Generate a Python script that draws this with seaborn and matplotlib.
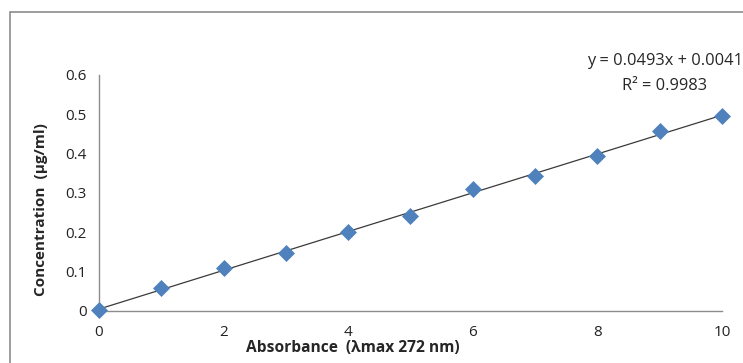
import numpy as np
import pandas as pd
import matplotlib
matplotlib.use('Agg')
import matplotlib.pyplot as plt
import seaborn as sns
from matplotlib.patches import Rectangle

sns.set_style('white')
plt.rcParams['font.family'] = ['Open Sans', 'DejaVu Sans']

# data
absorbance = [0, 1, 2, 3, 4, 5, 6, 7, 8, 9, 10]
concentration = [0.002, 0.059, 0.110, 0.148, 0.201, 0.242, 0.310, 0.343, 0.394, 0.458, 0.497]
x_ticks = [0, 2, 4, 6, 8, 10]
y_ticks = [0, 0.1, 0.2, 0.3, 0.4, 0.5, 0.6]
y_tick_labels = ['0', '0.1', '0.2', '0.3', '0.4', '0.5', '0.6']
eq_text = 'y = 0.0493x + 0.0041'
r2_text = 'R² = 0.9983'

df = pd.DataFrame({'x': absorbance, 'y': concentration})

fig = plt.figure(figsize=(7.43, 3.63), dpi=100)
ax = fig.add_axes([0.1332, 0.1433, 0.8385, 0.6501])

# outer chart frame (right/bottom edges fall off the picture)
fig.patches.append(Rectangle((10 / 743, -0.1), 1.2, 1 - 12 / 363 + 0.1,
                             transform=fig.transFigure, fill=False,
                             edgecolor='#8c8c8c', linewidth=1.2))

# linear trendline
slope, intercept = np.polyfit(df['x'], df['y'], 1)
xs = np.array([min(absorbance), max(absorbance)])
ax.plot(xs, slope * xs + intercept, color='#3a3a3a', linewidth=0.9, zorder=2)

sns.scatterplot(data=df, x='x', y='y', marker='D', s=75, color='#4F81BD',
                edgecolor='#4F81BD', linewidth=0, ax=ax, zorder=3, clip_on=False)

ax.set_xlim(0, 10)
ax.set_ylim(0, 0.6)
ax.set_xticks(x_ticks)
ax.set_yticks(y_ticks)
ax.set_yticklabels(y_tick_labels)
ax.tick_params(axis='both', labelsize=11, colors='#8c8c8c', labelcolor='#222222',
               length=5, width=1, direction='out')
ax.tick_params(axis='x', pad=5)
ax.tick_params(axis='y', pad=4)
for side in ['top', 'right']:
    ax.spines[side].set_visible(False)
for side in ['left', 'bottom']:
    ax.spines[side].set_color('#8c8c8c')
    ax.spines[side].set_linewidth(1)

ax.set_xlabel('Absorbance  (λmax 272 nm)', fontsize=11.2, fontweight='bold')
ax.set_ylabel('Concentration  (µg/ml)', fontsize=11, fontweight='bold')
ax.xaxis.set_label_coords(0.408, -0.122)
ax.yaxis.set_label_coords(-0.082, 0.43)

fig.text(665 / 743, 1 - 61 / 363, eq_text, ha='center', va='center', fontsize=11.8)
fig.text(665 / 743, 1 - 86 / 363, r2_text, ha='center', va='center', fontsize=11.8)

fig.savefig('out.png', dpi=100)
